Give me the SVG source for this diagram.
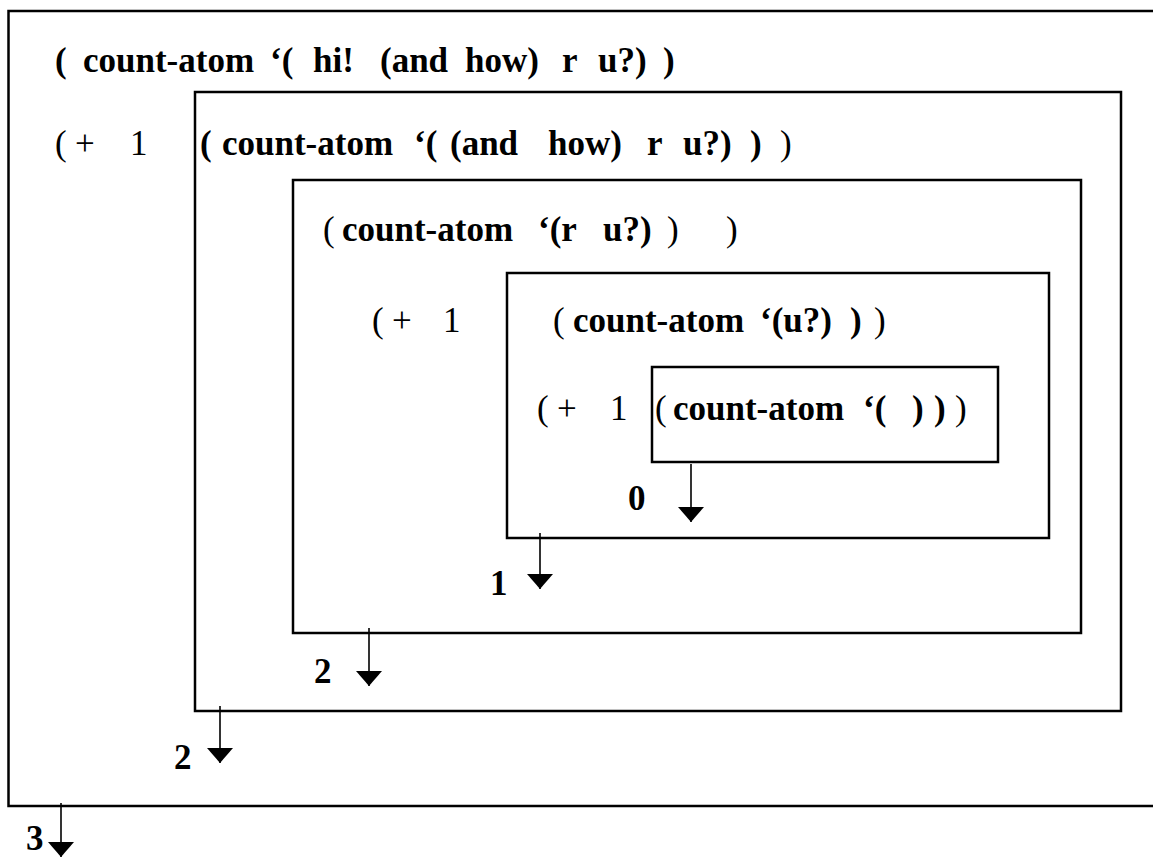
<svg xmlns="http://www.w3.org/2000/svg" width="1153" height="857" viewBox="0 0 1153 857">
<style>
  .box { fill: none; stroke: #000; stroke-width: 2.5; }
  .t { font-family: "Liberation Serif", "Times New Roman", serif; font-size: 35px; fill: #000; }
  .b { font-weight: bold; }
  .r { font-weight: normal; }
  .arrow { stroke: #000; stroke-width: 1.6; fill: none; marker-end: url(#head); }
</style>
<defs>
  <marker id="head" markerUnits="userSpaceOnUse" markerWidth="16" markerHeight="28" viewBox="0 -14 16 28" refX="15" refY="0" orient="auto">
    <path d="M0,-13 L15,0 L0,13 Z" fill="#000"/>
  </marker>
</defs>
<rect width="1153" height="857" fill="#fff"/>

<g id="box1">
  <path class="box" d="M1160,11 L8.5,11 L8.5,806 L1160,806"/>
  <text class="t b" y="72"><tspan x="55">(</tspan><tspan x="83">count-atom</tspan><tspan x="270">‘(</tspan><tspan x="313">hi!</tspan><tspan x="380">(and</tspan><tspan x="465">how)</tspan><tspan x="562">r</tspan><tspan x="598">u?)</tspan><tspan x="663">)</tspan></text>
  <text class="t r" y="155"><tspan x="55">(</tspan><tspan x="75">+</tspan><tspan x="130">1</tspan></text>
</g>

<g id="box2">
  <rect class="box" x="195" y="92" width="926" height="619"/>
  <text class="t b" y="155"><tspan x="200">(</tspan><tspan x="222">count-atom</tspan><tspan x="414">‘(</tspan><tspan x="450">(and</tspan><tspan x="548">how)</tspan><tspan x="647">r</tspan><tspan x="683">u?)</tspan><tspan x="750">)</tspan></text>
  <text class="t r" x="780" y="155">)</text>
  <text class="t r" y="332"><tspan x="372">(</tspan><tspan x="392">+</tspan><tspan x="443">1</tspan></text>
</g>

<g id="box3">
  <rect class="box" x="293" y="180" width="788" height="453"/>
  <text class="t r" x="323" y="241">(</text>
  <text class="t b" y="241"><tspan x="342">count-atom</tspan><tspan x="538">‘(r</tspan><tspan x="603">u?)</tspan></text>
  <text class="t r" y="241"><tspan x="667">)</tspan><tspan x="726">)</tspan></text>
</g>

<g id="box4">
  <rect class="box" x="507" y="273" width="542" height="265"/>
  <text class="t r" x="553" y="332">(</text>
  <text class="t b" y="332"><tspan x="573">count-atom</tspan><tspan x="760">‘(u?)</tspan><tspan x="850">)</tspan></text>
  <text class="t r" x="874" y="332">)</text>
  <text class="t r" y="420"><tspan x="537">(</tspan><tspan x="557">+</tspan><tspan x="610">1</tspan></text>
</g>

<g id="box5">
  <rect class="box" x="652" y="367" width="346" height="95"/>
  <text class="t r" x="655" y="420">(</text>
  <text class="t b" y="420"><tspan x="673">count-atom</tspan><tspan x="863">‘(</tspan><tspan x="912">)</tspan><tspan x="934">)</tspan></text>
  <text class="t r" x="955" y="420">)</text>
</g>

<g id="connectors">
  <line class="arrow" x1="691" y1="464" x2="691" y2="522"/>
  <line class="arrow" x1="540" y1="533" x2="540" y2="589"/>
  <line class="arrow" x1="369" y1="628" x2="369" y2="686"/>
  <line class="arrow" x1="220" y1="706" x2="220" y2="763"/>
  <line class="arrow" x1="61" y1="803" x2="61" y2="857"/>
</g>

<g id="labels">
  <text class="t b" x="628" y="510">0</text>
  <text class="t b" x="490" y="595">1</text>
  <text class="t b" x="314" y="683">2</text>
  <text class="t b" x="174" y="769">2</text>
  <text class="t b" x="26" y="850">3</text>
</g>
</svg>
